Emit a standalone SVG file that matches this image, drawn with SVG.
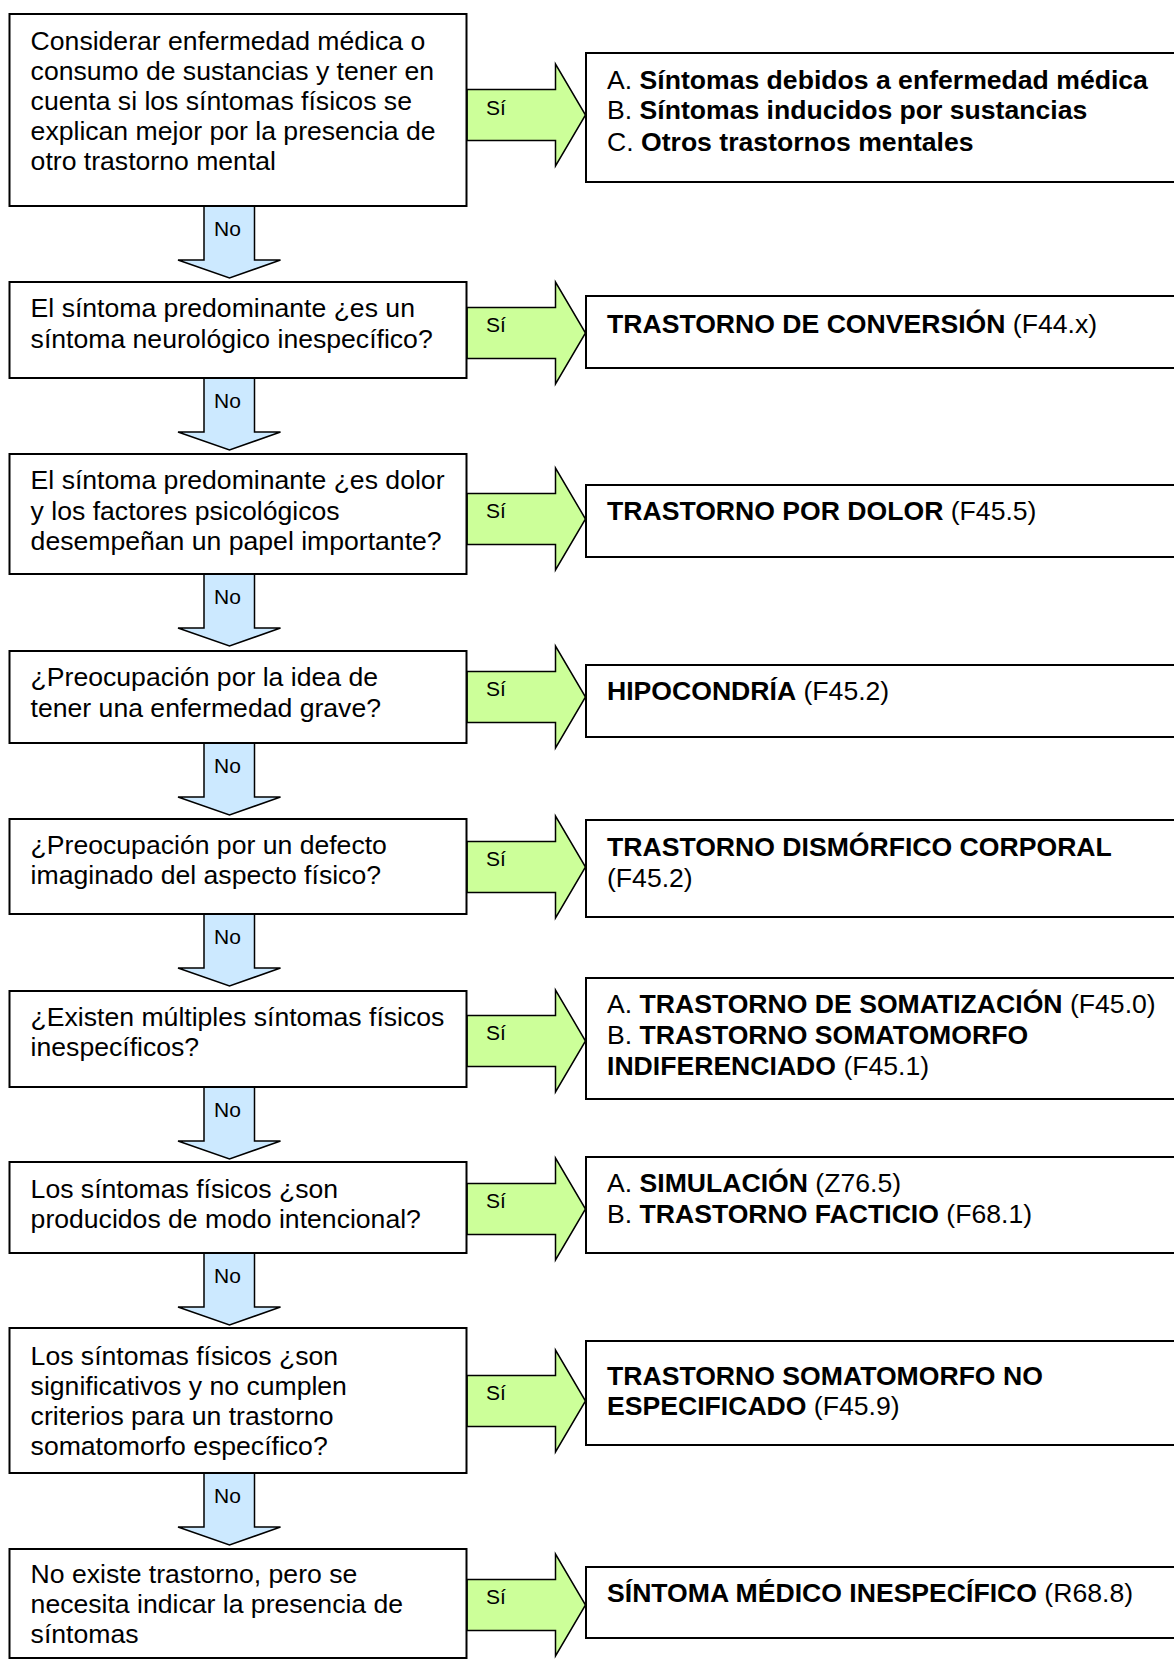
<svg xmlns="http://www.w3.org/2000/svg" xmlns:xlink="http://www.w3.org/1999/xlink" width="1174" height="1661" viewBox="0 0 1174 1661">
  <style>
    text { font-family: "Liberation Sans", Arial, sans-serif; fill: #000; }
    .box { fill: #fff; stroke: #000; stroke-width: 2; }
    .yes { fill: #ccff99; stroke: #000; stroke-width: 1.5; stroke-linejoin: miter; }
    .no { fill: #cce9ff; stroke: #000; stroke-width: 1.5; stroke-linejoin: miter; }
    .q { font-size: 26.6px; }
    .r { font-size: 26.6px; }
    .b { font-weight: bold; }
    .lbl { font-size: 21px; }
  </style>
  <defs>
    <!-- block arrow pointing right, origin at the middle of its tail -->
    <path id="arrowYes" class="yes" d="M0,-25.5 H88.5 V-51 L118.5,0 L88.5,51 V25.5 H0 Z"/>
    <!-- block arrow pointing down, origin at the top of the shaft (y) -->
    <path id="arrowNo" class="no" d="M204,0 H254.5 V54 H280.5 L229.5,72 L178,54 H204 Z"/>
  </defs>

  <g id="connectors">
    <!-- "Sí" arrows -->
    <use xlink:href="#arrowYes" transform="translate(467,115)"/>
    <use xlink:href="#arrowYes" transform="translate(467,333)"/>
    <use xlink:href="#arrowYes" transform="translate(467,519)"/>
    <use xlink:href="#arrowYes" transform="translate(467,697)"/>
    <use xlink:href="#arrowYes" transform="translate(467,867)"/>
    <use xlink:href="#arrowYes" transform="translate(467,1041)"/>
    <use xlink:href="#arrowYes" transform="translate(467,1209)"/>
    <use xlink:href="#arrowYes" transform="translate(467,1401)"/>
    <use xlink:href="#arrowYes" transform="translate(467,1605)"/>
    <text class="lbl" x="486" y="115">Sí</text>
    <text class="lbl" x="486" y="332">Sí</text>
    <text class="lbl" x="486" y="518">Sí</text>
    <text class="lbl" x="486" y="696">Sí</text>
    <text class="lbl" x="486" y="866">Sí</text>
    <text class="lbl" x="486" y="1040">Sí</text>
    <text class="lbl" x="486" y="1208">Sí</text>
    <text class="lbl" x="486" y="1400">Sí</text>
    <text class="lbl" x="486" y="1604">Sí</text>

    <!-- "No" arrows -->
    <use xlink:href="#arrowNo" transform="translate(0,206)"/>
    <use xlink:href="#arrowNo" transform="translate(0,378)"/>
    <use xlink:href="#arrowNo" transform="translate(0,574)"/>
    <use xlink:href="#arrowNo" transform="translate(0,743)"/>
    <use xlink:href="#arrowNo" transform="translate(0,914)"/>
    <use xlink:href="#arrowNo" transform="translate(0,1087)"/>
    <use xlink:href="#arrowNo" transform="translate(0,1253)"/>
    <use xlink:href="#arrowNo" transform="translate(0,1473)"/>
    <text class="lbl" x="214" y="236">No</text>
    <text class="lbl" x="214" y="408">No</text>
    <text class="lbl" x="214" y="604">No</text>
    <text class="lbl" x="214" y="773">No</text>
    <text class="lbl" x="214" y="944">No</text>
    <text class="lbl" x="214" y="1117">No</text>
    <text class="lbl" x="214" y="1283">No</text>
    <text class="lbl" x="214" y="1503">No</text>
  </g>

  <!-- question boxes -->
  <g id="q1">
    <rect class="box" x="9.5" y="14" width="457" height="192"/>
    <text class="q" x="30.6" y="50">Considerar enfermedad médica o</text>
    <text class="q" x="30.6" y="80">consumo de sustancias y tener en</text>
    <text class="q" x="30.6" y="110">cuenta si los síntomas físicos se</text>
    <text class="q" x="30.6" y="140">explican mejor por la presencia de</text>
    <text class="q" x="30.6" y="170">otro trastorno mental</text>
  </g>
  <g id="q2">
    <rect class="box" x="9.5" y="282" width="457" height="96"/>
    <text class="q" x="30.6" y="317">El síntoma predominante ¿es un</text>
    <text class="q" x="30.6" y="348">síntoma neurológico inespecífico?</text>
  </g>
  <g id="q3">
    <rect class="box" x="9.5" y="454" width="457" height="120"/>
    <text class="q" x="30.6" y="489">El síntoma predominante ¿es dolor</text>
    <text class="q" x="30.6" y="520">y los factores psicológicos</text>
    <text class="q" x="30.6" y="550">desempeñan un papel importante?</text>
  </g>
  <g id="q4">
    <rect class="box" x="9.5" y="651" width="457" height="92"/>
    <text class="q" x="30.6" y="686">¿Preocupación por la idea de</text>
    <text class="q" x="30.6" y="717">tener una enfermedad grave?</text>
  </g>
  <g id="q5">
    <rect class="box" x="9.5" y="819" width="457" height="95"/>
    <text class="q" x="30.6" y="854">¿Preocupación por un defecto</text>
    <text class="q" x="30.6" y="884">imaginado del aspecto físico?</text>
  </g>
  <g id="q6">
    <rect class="box" x="9.5" y="991" width="457" height="96"/>
    <text class="q" x="30.6" y="1026">¿Existen múltiples síntomas físicos</text>
    <text class="q" x="30.6" y="1056">inespecíficos?</text>
  </g>
  <g id="q7">
    <rect class="box" x="9.5" y="1162" width="457" height="91"/>
    <text class="q" x="30.6" y="1198">Los síntomas físicos ¿son</text>
    <text class="q" x="30.6" y="1228">producidos de modo intencional?</text>
  </g>
  <g id="q8">
    <rect class="box" x="9.5" y="1328" width="457" height="145"/>
    <text class="q" x="30.6" y="1365">Los síntomas físicos ¿son</text>
    <text class="q" x="30.6" y="1395">significativos y no cumplen</text>
    <text class="q" x="30.6" y="1425">criterios para un trastorno</text>
    <text class="q" x="30.6" y="1455">somatomorfo específico?</text>
  </g>
  <g id="q9">
    <rect class="box" x="9.5" y="1549" width="457" height="109"/>
    <text class="q" x="30.6" y="1583">No existe trastorno, pero se</text>
    <text class="q" x="30.6" y="1613">necesita indicar la presencia de</text>
    <text class="q" x="30.6" y="1643">síntomas</text>
  </g>

  <!-- diagnosis boxes -->
  <g id="d1">
    <rect class="box" x="586" y="53" width="620" height="129"/>
    <text class="r" x="607" y="89">A. <tspan class="b">Síntomas debidos a enfermedad médica</tspan></text>
    <text class="r" x="607" y="119">B. <tspan class="b">Síntomas inducidos por sustancias</tspan></text>
    <text class="r" x="607" y="151">C. <tspan class="b">Otros trastornos mentales</tspan></text>
  </g>
  <g id="d2">
    <rect class="box" x="586" y="296" width="620" height="72"/>
    <text class="r" x="607" y="333"><tspan class="b">TRASTORNO DE CONVERSIÓN</tspan> (F44.x)</text>
  </g>
  <g id="d3">
    <rect class="box" x="586" y="485" width="620" height="72"/>
    <text class="r" x="607" y="520"><tspan class="b">TRASTORNO POR DOLOR</tspan> (F45.5)</text>
  </g>
  <g id="d4">
    <rect class="box" x="586" y="665" width="620" height="72"/>
    <text class="r" x="607" y="700"><tspan class="b">HIPOCONDRÍA</tspan> (F45.2)</text>
  </g>
  <g id="d5">
    <rect class="box" x="586" y="820" width="620" height="97"/>
    <text class="r b" x="607" y="856">TRASTORNO DISMÓRFICO CORPORAL</text>
    <text class="r" x="607" y="887">(F45.2)</text>
  </g>
  <g id="d6">
    <rect class="box" x="586" y="978" width="620" height="121"/>
    <text class="r" x="607" y="1013">A. <tspan class="b">TRASTORNO DE SOMATIZACIÓN</tspan> (F45.0)</text>
    <text class="r" x="607" y="1044">B. <tspan class="b">TRASTORNO SOMATOMORFO</tspan></text>
    <text class="r" x="607" y="1075"><tspan class="b">INDIFERENCIADO</tspan> (F45.1)</text>
  </g>
  <g id="d7">
    <rect class="box" x="586" y="1157" width="620" height="96"/>
    <text class="r" x="607" y="1192">A. <tspan class="b">SIMULACIÓN</tspan> (Z76.5)</text>
    <text class="r" x="607" y="1223">B. <tspan class="b">TRASTORNO FACTICIO</tspan> (F68.1)</text>
  </g>
  <g id="d8">
    <rect class="box" x="586" y="1341" width="620" height="104"/>
    <text class="r b" x="607" y="1385">TRASTORNO SOMATOMORFO NO</text>
    <text class="r" x="607" y="1415"><tspan class="b">ESPECIFICADO</tspan> (F45.9)</text>
  </g>
  <g id="d9">
    <rect class="box" x="586" y="1567" width="620" height="71"/>
    <text class="r" x="607" y="1602"><tspan class="b">SÍNTOMA MÉDICO INESPECÍFICO</tspan> (R68.8)</text>
  </g>
</svg>
